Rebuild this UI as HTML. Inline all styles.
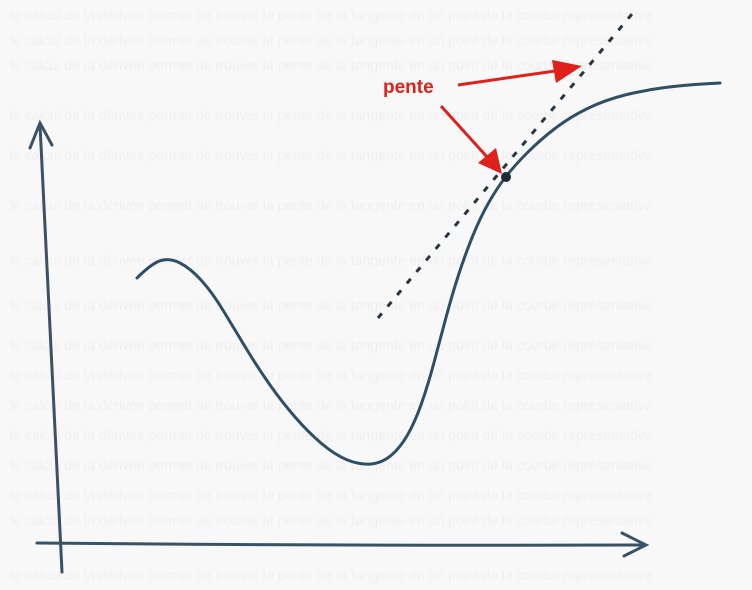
<!DOCTYPE html>
<html><head><meta charset="utf-8"><style>
html,body{margin:0;padding:0;background:#fafafa;}
svg{display:block}
</style></head><body>
<svg width="752" height="590" viewBox="0 0 752 590">
<rect width="752" height="590" fill="#f8f8f8"/>
<g id="ghost" fill="#000" opacity="0.03" font-family="Liberation Sans, sans-serif" font-size="14"></g>
<g id="axes" stroke="#3a5266" stroke-width="3" fill="none" stroke-linecap="round">
<path d="M62 572 Q52 350 40 125"/>
<path d="M30 148 L40 123 L52 145"/>
<path d="M37 543 Q340 546 645 545"/>
<path d="M622 533 L646 545 L624 556"/>
</g>
<path id="curve" fill="none" stroke="#2f4f66" stroke-width="3" stroke-linecap="round"/>
<line x1="378" y1="318" x2="632" y2="14" stroke="#2b3540" stroke-width="3" stroke-dasharray="6 9"/>
<circle cx="506" cy="177" r="5" fill="#1e2a33"/>
<text x="383" y="93" font-family="Liberation Sans, sans-serif" font-weight="bold" font-size="19" fill="#e0201a">pente</text>
<g fill="#e0201a" stroke="#e0201a">
<line x1="458" y1="85" x2="555" y2="71" stroke-width="3"/>
<polygon points="552,60 582,66 556,83" stroke="none"/>
<line x1="441" y1="106" x2="488" y2="158" stroke-width="3"/>
<polygon points="478,163 502,174 496,148" stroke="none"/>
</g>
</svg>
<script>
const curveX=[137,152,170,190,212,235,258,282,308,335,360,382,400,415,428,440,452,465,480,497,515,540,570,605,645,685,720];
const curveY=[278,263,258,268,292,330,368,402,432,455,465,463,448,422,385,340,295,255,218,188,165,140,117,100,90,85,83];
let d='M'+curveX[0]+' '+curveY[0];
for(let i=1;i<curveX.length-1;i++){const mx=(curveX[i]+curveX[i+1])/2,my=(curveY[i]+curveY[i+1])/2;d+=' Q'+curveX[i]+' '+curveY[i]+' '+mx+' '+my;}
d+=' L'+curveX[curveX.length-1]+' '+curveY[curveY.length-1];
document.getElementById('curve').setAttribute('d',d);
const ghostY=[20,45,70,120,160,210,265,310,350,380,410,440,470,500,525,580];
const g=document.getElementById('ghost');
ghostY.forEach(y=>{const t=document.createElementNS('http://www.w3.org/2000/svg','text');
t.setAttribute('x','10');t.setAttribute('y',y);


t.textContent='le calcul de la dérivée permet de trouver la pente de la tangente en un point de la courbe représentative';g.appendChild(t);});
</script>
</body></html>
